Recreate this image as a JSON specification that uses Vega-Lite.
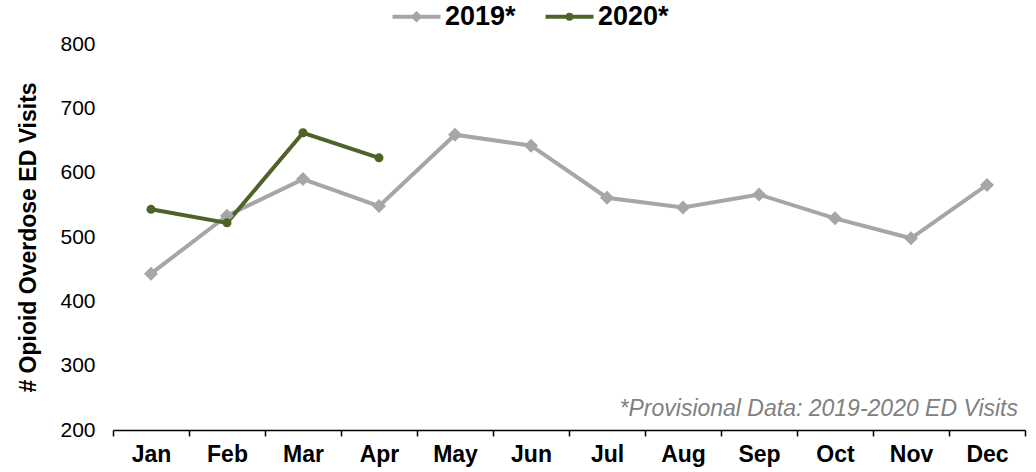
{
  "$schema": "https://vega.github.io/schema/vega-lite/v6.json",
  "width": 912,
  "height": 386,
  "autosize": {"type": "none"},
  "padding": {"left": 113, "top": 44, "right": 11, "bottom": 42},
  "background": "white",
  "config": {
    "font": "Liberation Sans",
    "view": {"stroke": null}
  },
  "datasets": {
    "visits": [
      {"month": "Jan", "series": "2019*", "value": 443},
      {"month": "Feb", "series": "2019*", "value": 533},
      {"month": "Mar", "series": "2019*", "value": 590},
      {"month": "Apr", "series": "2019*", "value": 548},
      {"month": "May", "series": "2019*", "value": 659},
      {"month": "Jun", "series": "2019*", "value": 642},
      {"month": "Jul", "series": "2019*", "value": 561},
      {"month": "Aug", "series": "2019*", "value": 546},
      {"month": "Sep", "series": "2019*", "value": 566},
      {"month": "Oct", "series": "2019*", "value": 529},
      {"month": "Nov", "series": "2019*", "value": 498},
      {"month": "Dec", "series": "2019*", "value": 581},
      {"month": "Jan", "series": "2020*", "value": 543},
      {"month": "Feb", "series": "2020*", "value": 522},
      {"month": "Mar", "series": "2020*", "value": 662},
      {"month": "Apr", "series": "2020*", "value": 623}
    ],
    "note": [
      {"month": "Dec", "value": 233, "label": "*Provisional Data: 2019-2020 ED Visits"}
    ]
  },
  "layer": [
    {
      "data": {"name": "visits"},
      "mark": {"type": "line", "strokeWidth": 4},
      "encoding": {
        "x": {
          "field": "month", "type": "nominal",
          "sort": ["Jan","Feb","Mar","Apr","May","Jun","Jul","Aug","Sep","Oct","Nov","Dec"],
          "scale": {"paddingInner": 0, "paddingOuter": 0},
          "axis": {
            "title": null, "labelAngle": 0, "labelFontSize": 23, "labelFontWeight": "bold",
            "labelColor": "black", "labelPadding": 7, "tickBand": "extent",
            "domainColor": "black", "domainWidth": 1.5, "tickColor": "black", "tickWidth": 1.5,
            "tickSize": 6, "grid": false
          }
        },
        "y": {
          "field": "value", "type": "quantitative",
          "scale": {"domain": [200, 800], "nice": false, "zero": false},
          "axis": {
            "values": [200,300,400,500,600,700,800],
            "title": "# Opioid Overdose ED Visits", "titleFontSize": 23, "titleFontWeight": "bold",
            "titleColor": "black", "titlePadding": 19,
            "labelFontSize": 21, "labelColor": "black", "labelPadding": 18,
            "domain": false, "ticks": false, "grid": false
          }
        },
        "color": {
          "field": "series", "type": "nominal",
          "scale": {"domain": ["2019*", "2020*"], "range": ["#A6A6A6", "#4F6228"]},
          "legend": {
            "title": null, "orient": "none", "direction": "horizontal",
            "legendX": 290, "legendY": -41,
            "labelFontSize": 27, "labelFontWeight": "bold", "labelColor": "black",
            "symbolSize": 144, "symbolStrokeWidth": 4, "labelOffset": 15, "columnPadding": 21,
            "padding": 0,
            "encode": {
              "symbols": {
                "update": {
                  "shape": {"signal": "datum.value === '2019*' ? 'M-4,0H4M0,-0.5L0.5,0L0,0.5L-0.5,0Z' : 'M-4,0H4M-0.33,0A0.33,0.33 0 1,0 0.33,0A0.33,0.33 0 1,0 -0.33,0Z'"},
                  "fill": {"signal": "datum.value === '2019*' ? '#A6A6A6' : '#4F6228'"},
                  "stroke": {"signal": "datum.value === '2019*' ? '#A6A6A6' : '#4F6228'"},
                  "strokeWidth": {"value": 4}
                }
              }
            }
          }
        }
      }
    },
    {
      "data": {"name": "visits"},
      "transform": [{"filter": "datum.series === '2019*'"}],
      "mark": {"type": "point", "shape": "diamond", "filled": true, "size": 196, "opacity": 1, "color": "#A6A6A6"},
      "encoding": {
        "x": {"field": "month", "type": "nominal", "sort": ["Jan","Feb","Mar","Apr","May","Jun","Jul","Aug","Sep","Oct","Nov","Dec"]},
        "y": {"field": "value", "type": "quantitative"}
      }
    },
    {
      "data": {"name": "visits"},
      "transform": [{"filter": "datum.series === '2020*'"}],
      "mark": {"type": "point", "shape": "circle", "filled": true, "size": 81, "opacity": 1, "color": "#4F6228"},
      "encoding": {
        "x": {"field": "month", "type": "nominal", "sort": ["Jan","Feb","Mar","Apr","May","Jun","Jul","Aug","Sep","Oct","Nov","Dec"]},
        "y": {"field": "value", "type": "quantitative"}
      }
    },
    {
      "data": {"name": "note"},
      "mark": {"type": "text", "align": "right", "baseline": "middle", "fontSize": 23, "fontStyle": "italic", "color": "#808080", "dx": 31},
      "encoding": {
        "x": {"field": "month", "type": "nominal", "sort": ["Jan","Feb","Mar","Apr","May","Jun","Jul","Aug","Sep","Oct","Nov","Dec"]},
        "y": {"field": "value", "type": "quantitative"},
        "text": {"field": "label"}
      }
    }
  ]
}
